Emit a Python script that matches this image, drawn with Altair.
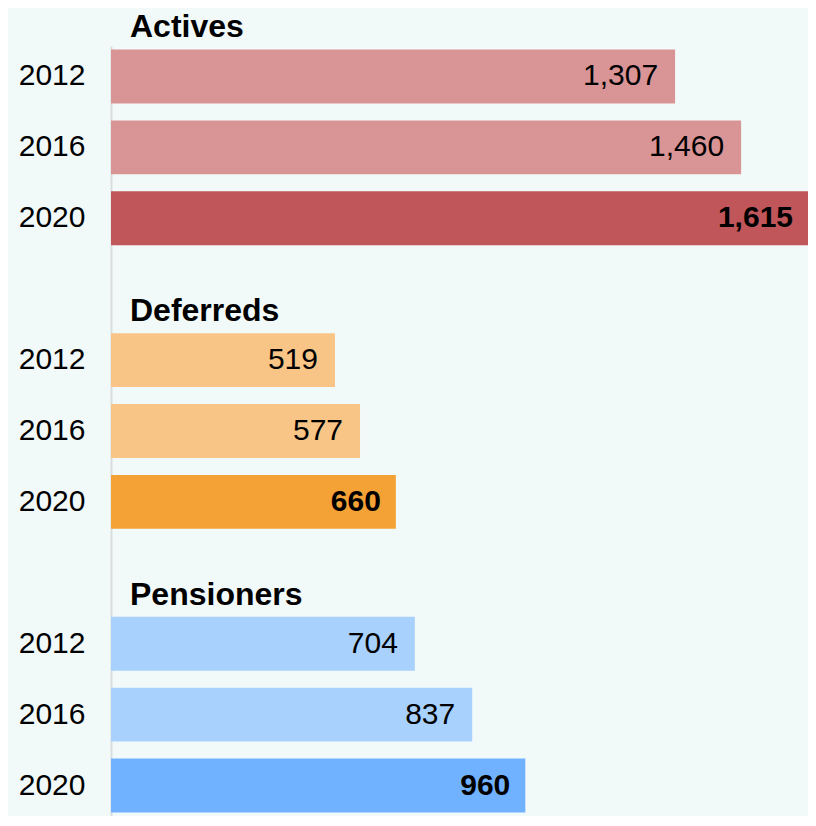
import altair as alt
import pandas as pd

groups = ["Actives", "Deferreds", "Pensioners"]
years = ["2012", "2016", "2020"]
values = {
    "Actives": [1307, 1460, 1615],
    "Deferreds": [519, 577, 660],
    "Pensioners": [704, 837, 960],
}
light_colors = {"Actives": "#D99496", "Deferreds": "#F8C587", "Pensioners": "#A9D1FD"}
dark_colors = {"Actives": "#C0565A", "Deferreds": "#F4A136", "Pensioners": "#70B2FF"}

rows = []
slot_order = []
for gi, g in enumerate(groups):
    if gi > 0:
        slot_order.append(" " * gi)
    for yi, y in enumerate(years):
        slot = f"{g} {y}"
        slot_order.append(slot)
        latest = yi == len(years) - 1
        rows.append({
            "group": g,
            "year": y,
            "slot": slot,
            "value": values[g][yi],
            "shade": f"{g}-{'dark' if latest else 'light'}",
            "latest": latest,
        })
df = pd.DataFrame(rows)

shade_domain = [f"{g}-light" for g in groups] + [f"{g}-dark" for g in groups]
shade_range = [light_colors[g] for g in groups] + [dark_colors[g] for g in groups]

titles = pd.DataFrame({"group": groups, "slot": [f"{g} {years[0]}" for g in groups], "zero": [0, 0, 0]})

FONT = "Liberation Sans"

y_enc = alt.Y(
    "slot:N",
    sort=slot_order,
    scale=alt.Scale(domain=slot_order, paddingInner=0.24, paddingOuter=0.05),
    axis=alt.Axis(
        title=None,
        labelExpr="slice(datum.label, -4)",
        ticks=False,
        labelPadding=26,
        labelFontSize=30,
        labelFont=FONT,
        labelColor="#000000",
        domainColor="#DADDDD",
        domainWidth=2,
        grid=False,
    ),
)
x_enc = alt.X(
    "value:Q",
    scale=alt.Scale(domain=[0, 1615], nice=False),
    axis=None,
)

base = alt.Chart(df)

bars = base.mark_bar().encode(
    x=x_enc,
    y=y_enc,
    color=alt.Color("shade:N", scale=alt.Scale(domain=shade_domain, range=shade_range), legend=None),
)

labels_normal = base.transform_filter("!datum.latest").mark_text(
    align="right", baseline="middle", dx=-17, fontSize=30, font=FONT, color="#000000"
).encode(x=x_enc, y=alt.Y("slot:N", sort=slot_order), text=alt.Text("value:Q", format=","))

labels_bold = base.transform_filter("datum.latest").mark_text(
    align="right", baseline="middle", dx=-15, fontSize=30, font=FONT, fontWeight="bold", color="#000000"
).encode(x=x_enc, y=alt.Y("slot:N", sort=slot_order), text=alt.Text("value:Q", format=","))

group_titles = alt.Chart(titles).mark_text(
    align="left", baseline="middle", dx=19, dy=-49, fontSize=32, font=FONT, fontWeight="bold", color="#000000"
).encode(
    x=alt.X("zero:Q", scale=alt.Scale(domain=[0, 1615], nice=False), axis=None),
    y=alt.Y("slot:N", sort=slot_order),
    text="group:N",
)

chart = alt.layer(bars, labels_normal, labels_bold, group_titles).properties(
    width=697,
    height=770,
    background="#F2FAF9",
    padding={"left": 103, "top": 38, "right": 0, "bottom": 0},
    autosize=alt.AutoSizeParams(type="none"),
).configure_view(stroke=None)

chart.save("out.html", embed_options={"renderer": "svg", "actions": False})
